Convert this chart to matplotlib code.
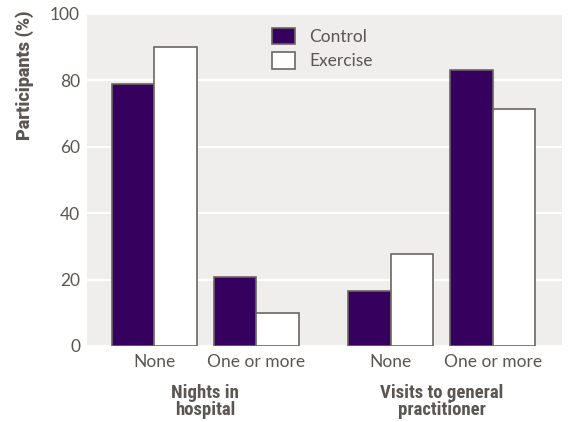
import matplotlib
matplotlib.use("Agg")
import matplotlib.pyplot as plt
import numpy as np

categories = ["None", "One or more", "None", "One or more"]
groups = ["Nights in\nhospital", "Visits to general\npractitioner"]
control = [79.0, 20.8, 16.5, 83.0]
exercise = [90.0, 9.8, 27.6, 71.3]
series_names = ["Control", "Exercise"]
yticks = [0, 20, 40, 60, 80, 100]

purple = "#36005f"
edge = "#6b6661"
textc = "#5b5651"
bg = "#efeeed"

plt.rcParams['font.family'] = ['Lato', 'DejaVu Sans']

fig = plt.figure(figsize=(5.68, 4.22), dpi=100)
ax = fig.add_axes([87/568, 1-346/422, (562-87)/568, (346-14)/422])
ax.set_facecolor(bg)

x = np.array([0, 1, 2.32, 3.32])
w = 0.417
ax.bar(x - w/2, control, w, color=purple, edgecolor=edge, linewidth=1.2, label=series_names[0], zorder=3)
ax.bar(x + w/2, exercise, w, color="white", edgecolor=edge, linewidth=1.2, label=series_names[1], zorder=3)

ax.set_xlim(-0.66, 4.0)
ax.set_ylim(0, 100)
ax.set_yticks(yticks)
ax.set_yticklabels([str(t) for t in yticks], fontsize=12.5, color=textc)
ax.set_xticks(x)
ax.set_xticklabels(categories, fontsize=12.5, color=textc)
ax.tick_params(axis='both', length=0, pad=6)
ax.tick_params(axis='y', pad=5)
for s in ax.spines.values():
    s.set_visible(False)
ax.yaxis.grid(True, color="white", linewidth=1.5, zorder=0)
ax.set_axisbelow(True)

leg = ax.legend(loc="upper left", bbox_to_anchor=((263-87)/475, 1-5/332), frameon=False,
                fontsize=12.5, handlelength=1.35, handleheight=1.05, labelspacing=0.45,
                handletextpad=0.8, borderpad=0)
for t in leg.get_texts():
    t.set_color(textc)

# group labels
for gi, g in enumerate(groups):
    cx = (x[2*gi] + x[2*gi+1]) / 2
    ax.text(cx, -38/332, g, transform=ax.get_xaxis_transform(),
            ha="center", va="top", fontsize=13.5, fontweight="heavy", color=textc,
            linespacing=0.95, family=['Roboto Condensed', 'Roboto', 'DejaVu Sans'])

fig.text(25/568, 1-10/422, "Participants (%)", rotation=90, ha="center", va="top",
         fontsize=13, fontweight="heavy", color=textc, family=['Roboto', 'DejaVu Sans'])

fig.savefig("out.png", dpi=100, facecolor="white")
